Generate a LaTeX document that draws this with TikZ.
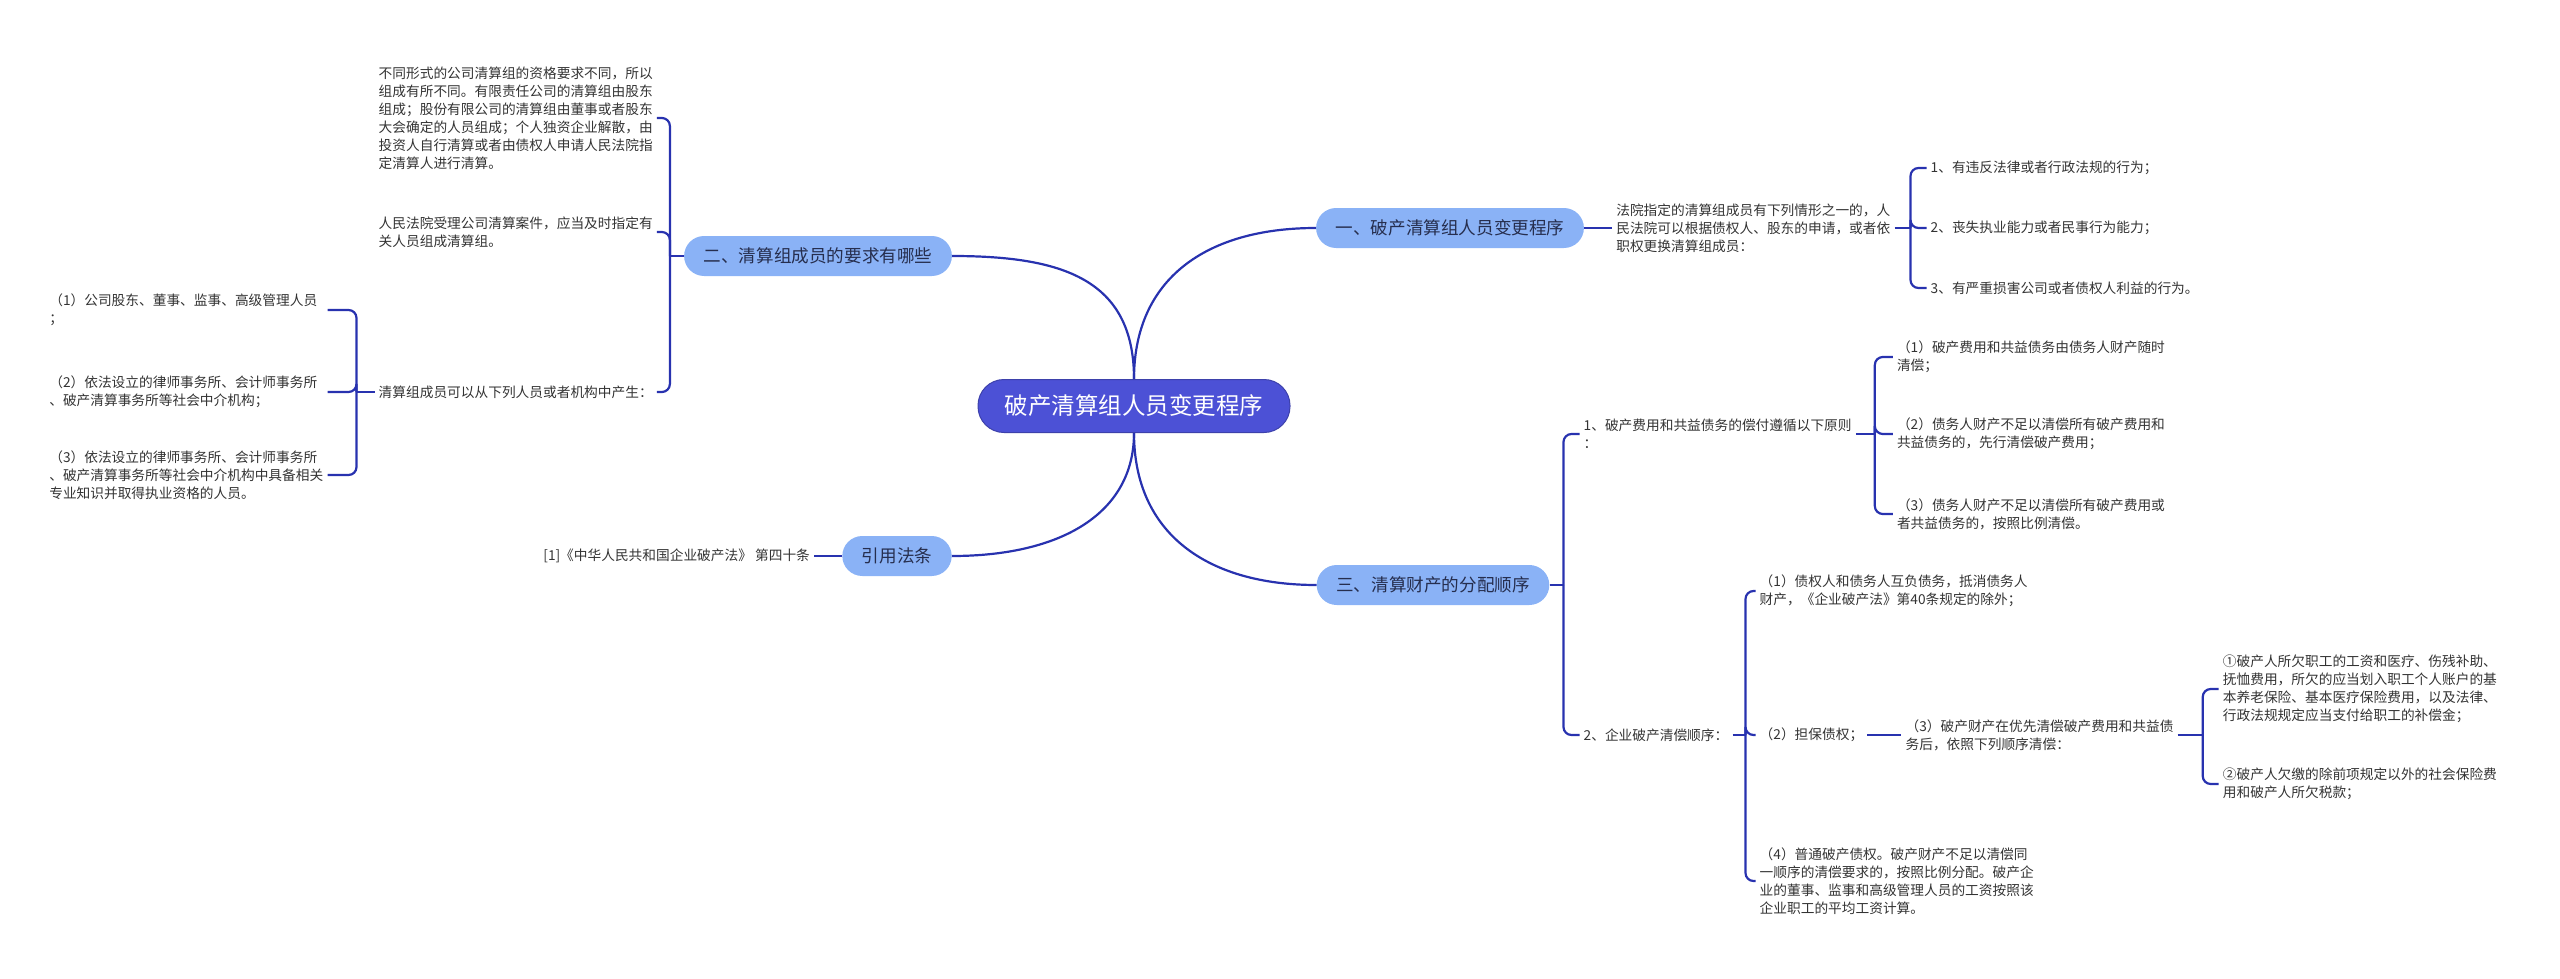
\documentclass[tikz,border=0pt]{standalone}
\usepackage{fontspec}
\setmainfont{Noto Sans CJK SC}
\usepackage{xcolor}
\usepackage{tikz}
\usetikzlibrary{positioning}
\definecolor{coreblue}{RGB}{76,81,214}
\definecolor{topicblue}{RGB}{138,178,246}
\definecolor{topictext}{RGB}{38,46,78}
\definecolor{linkblue}{RGB}{40,50,175}
\definecolor{leaftext}{RGB}{51,51,51}
\tikzset{
  corebox/.style={rectangle,rounded corners=26pt,draw=coreblue!80!black,line width=1pt,
                  fill=coreblue,text=white,minimum width=312pt,minimum height=53pt,
                  font=\fontsize{23.5}{28}\selectfont},
  topicbox/.style={rectangle,rounded corners=20pt,fill=topicblue,text=topictext,
                   minimum height=40pt,inner xsep=19.5pt,font=\fontsize{17.6}{22}\selectfont},
  leaf/.style={align=left,inner xsep=4pt,inner ysep=2pt,text=leaftext,
               font=\fontsize{13.7}{18}\selectfont},
  wleaf/.style={leaf,text width=#1},
  wleaf/.default=274pt,
  link/.style={draw=linkblue,line width=2.2pt,rounded corners=8pt},
}
\begin{document}
\begin{tikzpicture}[x=1pt,y=-1pt]
  \useasboundingbox (0,0) rectangle (2560,979);

  % --- 中心主题 ---
  \node[corebox] (core) at (1134,406) {破产清算组人员变更程序};

  % --- 一级分支 ---
  \node[topicbox] (chg)  at (1450,228) {一、破产清算组人员变更程序};
  \node[topicbox] (req)  at (818,256)  {二、清算组成员的要求有哪些};
  \node[topicbox] (dist) at (1433,585) {三、清算财产的分配顺序};
  \node[topicbox] (law)  at (897,556)  {引用法条};

  \draw[link] (core.north) .. controls +(0,-100) and +(-110,0) .. (chg.west);
  \draw[link] (core.north) .. controls +(0,-100) and +(110,0) .. (req.east);
  \draw[link] (core.south) .. controls +(0,100) and +(-110,0) .. (dist.west);
  \draw[link] (core.south) .. controls +(0,80) and +(110,0) .. (law.east);

  % --- 一、变更程序 ---
  \node[leaf, right=28pt of chg] (chgtxt)
    {法院指定的清算组成员有下列情形之一的，人\\
     民法院可以根据债权人、股东的申请，或者依\\
     职权更换清算组成员：};
  \node[leaf, right=32pt of chgtxt, yshift=60pt]  (chga) {1、有违反法律或者行政法规的行为；};
  \node[leaf, right=32pt of chgtxt]               (chgb) {2、丧失执业能力或者民事行为能力；};
  \node[leaf, right=32pt of chgtxt, yshift=-60pt] (chgc) {3、有严重损害公司或者债权人利益的行为。};

  \draw[link] (chg) -- (chgtxt);
  \draw[link] (chgtxt.east) -- ++(16,0) coordinate (jchg);
  \draw[link] (jchg) |- (chga.west);
  \draw[link] (jchg) |- (chgb.west);
  \draw[link] (jchg) |- (chgc.west);

  % --- 二、清算组成员要求 ---
  \node[wleaf, left=27pt of req, yshift=138pt] (reqa)
    {不同形式的公司清算组的资格要求不同，所以\\
     组成有所不同。有限责任公司的清算组由股东\\
     组成；股份有限公司的清算组由董事或者股东\\
     大会确定的人员组成；个人独资企业解散，由\\
     投资人自行清算或者由债权人申请人民法院指\\
     定清算人进行清算。};
  \node[wleaf, left=27pt of req, yshift=24pt] (reqb)
    {人民法院受理公司清算案件，应当及时指定有\\
     关人员组成清算组。};
  \node[wleaf, left=27pt of req, yshift=-136pt] (reqc)
    {清算组成员可以从下列人员或者机构中产生：};

  \draw[link] (req.west) -- ++(-14,0) coordinate (jreq);
  \draw[link] (jreq) |- (reqa.east);
  \draw[link] (jreq) |- (reqb.east);
  \draw[link] (jreq) |- (reqc.east);

  \node[wleaf, left=47pt of reqc, yshift=82pt] (reqc1)
    {（1）公司股东、董事、监事、高级管理人员\\
     ；};
  \node[wleaf, left=47pt of reqc] (reqc2)
    {（2）依法设立的律师事务所、会计师事务所\\
     、破产清算事务所等社会中介机构；};
  \node[wleaf, left=47pt of reqc, yshift=-83pt] (reqc3)
    {（3）依法设立的律师事务所、会计师事务所\\
     、破产清算事务所等社会中介机构中具备相关\\
     专业知识并取得执业资格的人员。};

  \draw[link] (reqc.west) -- ++(-18,0) coordinate (jreqc);
  \draw[link] (jreqc) |- (reqc1.east);
  \draw[link] (jreqc) |- (reqc2.east);
  \draw[link] (jreqc) |- (reqc3.east);

  % --- 引用法条 ---
  \node[leaf, left=28pt of law] (lawtxt) {[1]《中华人民共和国企业破产法》 第四十条};
  \draw[link] (law) -- (lawtxt);

  % --- 三、分配顺序 ---
  \node[leaf, right=30pt of dist, yshift=151pt] (dist1)
    {1、破产费用和共益债务的偿付遵循以下原则\\
     ：};
  \node[leaf, right=30pt of dist, yshift=-150pt] (dist2) {2、企业破产清偿顺序：};

  \draw[link] (dist.east) -- ++(14,0) coordinate (jdist);
  \draw[link] (jdist) |- (dist1.west);
  \draw[link] (jdist) |- (dist2.west);

  \node[leaf, right=37pt of dist1, yshift=77pt] (dist1a)
    {（1）破产费用和共益债务由债务人财产随时\\
     清偿；};
  \node[leaf, right=37pt of dist1] (dist1b)
    {（2）债务人财产不足以清偿所有破产费用和\\
     共益债务的，先行清偿破产费用；};
  \node[leaf, right=37pt of dist1, yshift=-80pt] (dist1c)
    {（3）债务人财产不足以清偿所有破产费用或\\
     者共益债务的，按照比例清偿。};

  \draw[link] (dist1.east) -- ++(19,0) coordinate (jdist1);
  \draw[link] (jdist1) |- (dist1a.west);
  \draw[link] (jdist1) |- (dist1b.west);
  \draw[link] (jdist1) |- (dist1c.west);

  \node[leaf, right=23pt of dist2, yshift=144pt] (dist2a)
    {（1）债权人和债务人互负债务，抵消债务人\\
     财产，《企业破产法》第40条规定的除外；};
  \node[leaf, right=23pt of dist2] (dist2b) {（2）担保债权；};
  \node[leaf, right=23pt of dist2, yshift=-146pt] (dist2c)
    {（4）普通破产债权。破产财产不足以清偿同\\
     一顺序的清偿要求的，按照比例分配。破产企\\
     业的董事、监事和高级管理人员的工资按照该\\
     企业职工的平均工资计算。};

  \draw[link] (dist2.east) -- ++(13,0) coordinate (jdist2);
  \draw[link] (jdist2) |- (dist2a.west);
  \draw[link] (jdist2) |- (dist2b.west);
  \draw[link] (jdist2) |- (dist2c.west);

  \node[leaf, right=34pt of dist2b] (dist3)
    {（3）破产财产在优先清偿破产费用和共益债\\
     务后，依照下列顺序清偿：};
  \draw[link] (dist2b) -- (dist3);

  \node[leaf, right=41pt of dist3, yshift=46pt] (dist3a)
    {①破产人所欠职工的工资和医疗、伤残补助、\\
     抚恤费用，所欠的应当划入职工个人账户的基\\
     本养老保险、基本医疗保险费用，以及法律、\\
     行政法规规定应当支付给职工的补偿金；};
  \node[leaf, right=41pt of dist3, yshift=-49pt] (dist3b)
    {②破产人欠缴的除前项规定以外的社会保险费\\
     用和破产人所欠税款；};

  \draw[link] (dist3.east) -- ++(25,0) coordinate (jdist3);
  \draw[link] (jdist3) |- (dist3a.west);
  \draw[link] (jdist3) |- (dist3b.west);
\end{tikzpicture}
\end{document}
